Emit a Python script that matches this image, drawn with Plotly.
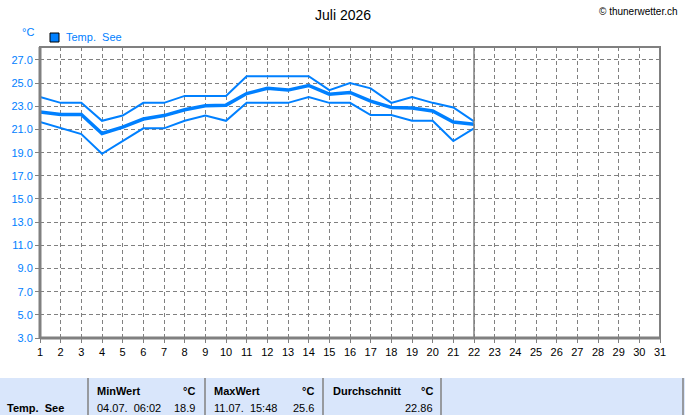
import plotly.graph_objects as go

days = list(range(1, 23))
t_max = [23.8, 23.3, 23.3, 21.75, 22.2, 23.3, 23.3, 23.9, 23.9, 23.9, 25.6,
         25.6, 25.6, 25.6, 24.4, 25.0, 24.55, 23.3, 23.8, 23.3, 22.9, 21.7]
t_mean = [22.5, 22.3, 22.3, 20.65, 21.2, 21.9, 22.2, 22.7, 23.05, 23.1, 24.1,
          24.55, 24.4, 24.8, 24.05, 24.2, 23.45, 22.9, 22.85, 22.6, 21.65, 21.45]
t_min = [21.65, 21.1, 20.6, 18.9, 20.0, 21.1, 21.1, 21.75, 22.2, 21.75, 23.3,
         23.3, 23.3, 23.8, 23.3, 23.3, 22.25, 22.25, 21.75, 21.75, 20.0, 21.1]

x_ticks = list(range(1, 32))
y_ticks = [3, 5, 7, 9, 11, 13, 15, 17, 19, 21, 23, 25, 27]
y_labels = [f"{v:.1f}" for v in y_ticks]
today = 22

title = "Juli 2026"
series_name = "Temp.\u00a0\u00a0See"
table_head = ["MinWert", "MaxWert", "Durchschnitt"]
table_vals = [("04.07.\u00a0\u00a006:02", "18.9"), ("11.07.\u00a0\u00a015:48", "25.6"), ("", "22.86")]

W, H = 685, 415
L, R, T, B = 40, 660, 47, 338
BLUE = "rgb(0,128,255)"
GRAY = "#808080"
FONT = "Liberation Sans"


def px(x):
    return (x - L) / (R - L)


def py(y):
    return (B - y) / (B - T)


fig = go.Figure()
fig.add_trace(go.Scatter(x=days, y=t_max, mode="lines",
                         line=dict(color=BLUE, width=2), hoverinfo="skip"))
fig.add_trace(go.Scatter(x=days, y=t_min, mode="lines",
                         line=dict(color=BLUE, width=2), hoverinfo="skip"))
fig.add_trace(go.Scatter(x=days, y=t_mean, mode="lines",
                         line=dict(color=BLUE, width=3.5), hoverinfo="skip"))

shapes = []
shapes.append(dict(type="line", xref="x", yref="paper", x0=today, x1=today,
                   y0=0, y1=1, line=dict(color=GRAY, width=1.5)))
shapes.append(dict(type="rect", xref="paper", yref="paper", x0=0, x1=1, y0=0, y1=1,
                   line=dict(color=GRAY, width=2)))
shapes.append(dict(type="line", xref="paper", yref="paper", x0=0, x1=0, y0=0, y1=1,
                   line=dict(color=GRAY, width=3)))
shapes.append(dict(type="line", xref="paper", yref="paper", x0=0, x1=1, y0=0, y1=0,
                   line=dict(color=GRAY, width=3)))
shapes.append(dict(type="rect", xref="paper", yref="paper",
                   x0=px(50), x1=px(59), y0=py(42), y1=py(33),
                   fillcolor=BLUE, line=dict(color="black", width=1)))
shapes.append(dict(type="rect", xref="paper", yref="paper",
                   x0=px(0), x1=px(W), y0=py(H), y1=py(378),
                   fillcolor="#d9e6fb", line=dict(width=0), layer="below"))
for sx in [88, 205, 323, 441, 683]:
    shapes.append(dict(type="line", xref="paper", yref="paper",
                       x0=px(sx), x1=px(sx), y0=py(H), y1=py(378),
                       line=dict(color=GRAY, width=1.5)))

ann = []


def txt(x, y, s, size=11, color="black", xanchor="left", bold=False, font=FONT):
    ann.append(dict(xref="paper", yref="paper", x=px(x), y=py(y),
                    text=f"<b>{s}</b>" if bold else s, showarrow=False,
                    xanchor=xanchor, yanchor="middle",
                    font=dict(size=size, color=color, family=font)))


txt(343, 15, title, size=14, xanchor="center")
txt(680, 11, "© thunerwetter.ch", size=10, xanchor="right")
txt(20, 32, "°C", size=11, color=BLUE)
txt(64, 37, series_name, size=11, color=BLUE)

txt(5, 408, series_name, size=11, bold=True)
col_x = [95, 212, 331]
unit_x = [197, 316, 435]
for cx, ux, head, (when, val) in zip(col_x, unit_x, table_head, table_vals):
    txt(cx, 391, head, size=11, bold=True)
    txt(ux, 391, "°C", size=11, bold=True, xanchor="right")
    if when:
        txt(cx, 408, when, size=11)
    txt(ux, 408, val, size=11, xanchor="right")

fig.update_layout(
    width=W, height=H,
    margin=dict(l=L, r=W - R, t=T, b=H - B),
    paper_bgcolor="white", plot_bgcolor="white",
    showlegend=False,
    shapes=shapes, annotations=ann,
    xaxis=dict(range=[1, 31], tickvals=x_ticks, ticktext=[str(v) for v in x_ticks],
               showgrid=True, gridcolor=GRAY, griddash="4px,3px", gridwidth=1,
               zeroline=False, showline=False, ticks="outside", ticklen=4,
               tickcolor=GRAY, tickfont=dict(family=FONT, size=11, color="black")),
    yaxis=dict(range=[3, 28.12], tickvals=y_ticks, ticktext=y_labels,
               showgrid=True, gridcolor=GRAY, griddash="4px,3px", gridwidth=1,
               zeroline=False, showline=False, ticks="outside", ticklen=4,
               tickcolor=GRAY, tickfont=dict(family=FONT, size=11, color=BLUE)),
)

fig.write_html("out.html")
